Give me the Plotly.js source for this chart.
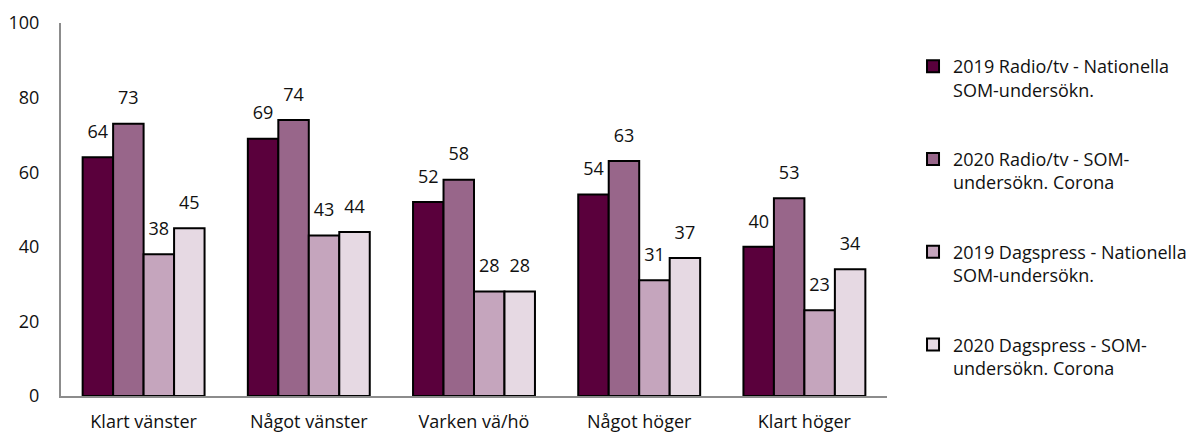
<!DOCTYPE html>
<html><head><meta charset="utf-8">
<script src="https://cdn.plot.ly/plotly-3.0.1.min.js"></script>
<style>html,body{margin:0;padding:0;background:#fff}#chart{width:1195px;height:434px}</style>
</head><body><div id="chart"></div>
<script>
const categories = ["Klart vänster","Något vänster","Varken vä/hö","Något höger","Klart höger"];
const seriesNames = ["2019 Radio/tv - Nationella<br>SOM-undersökn.","2020 Radio/tv - SOM-<br>undersökn. Corona","2019 Dagspress - Nationella<br>SOM-undersökn.","2020 Dagspress - SOM-<br>undersökn. Corona"];
const radio2019 = [64,69,52,54,40];
const radio2020 = [73,74,58,63,53];
const press2019 = [38,43,28,31,23];
const press2020 = [45,44,28,37,34];
const yTicks = [0,20,40,60,80,100];
const colors = ["#5a003c","#98668a","#c5a5bd","#e6d9e3"];
const values = [radio2019, radio2020, press2019, press2020];
const font = "'Open Sans', sans-serif";
const FS = 18;
const bars = values.map((v,i)=>({
  type:"bar", x:categories, y:v, name:seriesNames[i],
  marker:{color:colors[i], line:{color:"#000", width:2}},
  legendgroup:"g"+i, offsetgroup:"g"+i
}));
const labels = values.map((v,i)=>({
  type:"scatter", mode:"markers+text", x:categories, y:v, text:v.map(String),
  textposition:"top center", textfont:{family:font,size:FS,color:"#111"},
  marker:{size:22, opacity:0}, showlegend:false, hoverinfo:"skip",
  offsetgroup:"g"+i, cliponaxis:false
}));
Plotly.newPlot("chart", bars.concat(labels), {
  width:1195, height:434,
  margin:{l:61,r:308,t:23,b:38,autoexpand:false},
  barmode:"group", bargap:0.262, bargroupgap:0,
  scattermode:"group", scattergap:0.262,
  plot_bgcolor:"#fff", paper_bgcolor:"#fff",
  font:{family:font,size:FS,color:"#111"},
  xaxis:{showline:true, linecolor:"#8c8c8c", linewidth:2, ticks:"", showgrid:false, tickfont:{size:FS}, ticklabelstandoff:8},
  yaxis:{range:[0,100], tickvals:yTicks, showline:true, linecolor:"#8c8c8c", linewidth:2, showgrid:false, zeroline:false, ticks:"", tickfont:{size:FS}, ticklabelstandoff:16},
  showlegend:true,
  legend:{x:1.0315, xanchor:"left", y:0.933, yanchor:"top", traceorder:"grouped", tracegroupgap:43, font:{size:FS,family:font,color:"#111"}, itemwidth:30, valign:"top"}
},{displayModeBar:false, staticPlot:true});
</script></body></html>
